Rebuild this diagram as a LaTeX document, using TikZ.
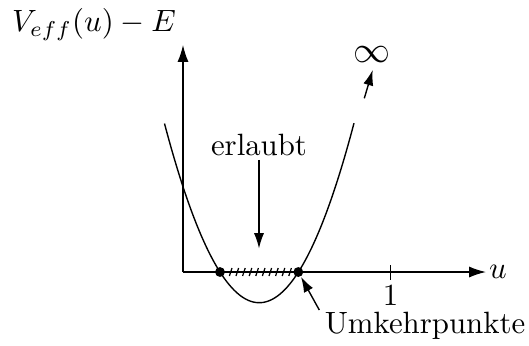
\documentclass[tikz,border=0pt]{standalone}
\usetikzlibrary{arrows.meta}
\begin{document}
\begin{tikzpicture}[x=0.3247pt,y=-0.3247pt,
  axis/.style={-{Latex[length=5.5pt,width=3.6pt]}, line width=0.45pt},
  pointer/.style={-{Latex[length=5pt,width=3.3pt]}, line width=0.45pt},
  lbl/.style={inner sep=0pt},
  turnpt/.style={circle, fill=black, inner sep=0pt, minimum size=3.2pt}]
\useasboundingbox (0,0) rectangle (529,345);
% axes
\coordinate (O) at (183,272);
\coordinate (xe) at (486,272);
\coordinate (ye) at (183,45);
\draw[axis] (O) -- (xe);
\draw[axis] (O) -- (ye);
% labels of axes
\node[lbl, anchor=base] (ylab) at (94,31.7) {$V_{eff}(u)-E$};
\node[lbl, anchor=base] (xlab) at (498,278.3) {$u$};
% tick at 1
\coordinate (t1a) at (390.7,265);
\coordinate (t1b) at (390.7,280);
\draw[line width=0.45pt] (t1a) -- (t1b);
\node[lbl, anchor=base] (one) at (390.5,305) {$1$};
% parabola
\draw[line width=0.45pt] plot[domain=164.5:354, samples=80, smooth]
  (\x, {272 + 30.7*(1 - ((\x-259.2)/39.2)^2)});
% hatching
\foreach \i in {0,...,9}{
  \draw[line width=0.4pt] ({230.7+6.6*\i-1.3},276) -- ({230.7+6.6*\i+1.3},268);
}
% turning points
\node[turnpt] (p1) at (220,272) {};
\node[turnpt] (p2) at (298.3,272) {};
% erlaubt
\node[lbl, anchor=base] (erl) at (259,155) {erlaubt};
\coordinate (erlend) at (259,248.5);
\draw[pointer] (erl.south) ++(0,4) -- (erlend);
% Umkehrpunkte
\node[lbl] (umk) at (425,326) {Umkehrpunkte};
\coordinate (umks) at (319.3,310);
\draw[pointer] (umks) -- (p2);
% infinity
\node[lbl] (inf) at (371.7,55) {\large$\infty$};
\coordinate (infs) at (364.3,98.3);
\coordinate (infe) at (372.7,70);
\draw[pointer] (infs) -- (infe);
\end{tikzpicture}
\end{document}
